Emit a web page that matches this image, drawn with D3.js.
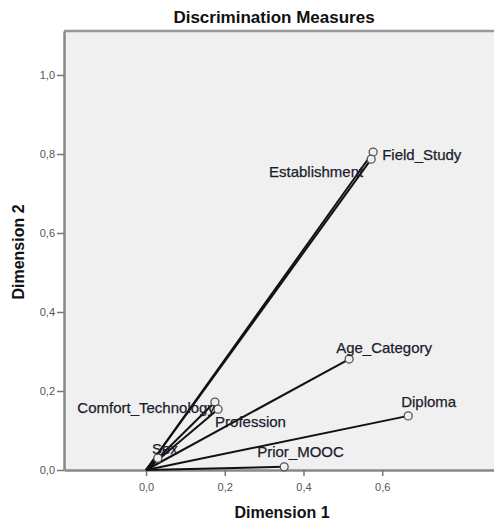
<!DOCTYPE html>
<html>
<head>
<meta charset="utf-8">
<style>
body { margin: 0; background: #fff; }
text { font-family: Arial, "Liberation Sans", sans-serif; }
.tick text { fill: #555; font-size: 11px; }
.lbl { fill: #1c1c2c; font-size: 15px; stroke: #1c1c2c; stroke-width: 0.25px; }
.ttl { fill: #111; font-weight: bold; }
</style>
<script src="https://cdn.jsdelivr.net/npm/d3@7"></script>
</head>
<body>
<script>

// discrimination measures per variable
var variables = ["Field_Study", "Establishment", "Age_Category", "Diploma", "Prior_MOOC", "Comfort_Technology", "Profession", "Sex"];
var dim1 = [0.577, 0.572, 0.516, 0.666, 0.351, 0.175, 0.183, 0.030];
var dim2 = [0.805, 0.787, 0.281, 0.137, 0.008, 0.172, 0.154, 0.030];
var xTicks = [0, 0.2, 0.4, 0.6];
var yTicks = [0, 0.2, 0.4, 0.6, 0.8, 1.0];

// label placement around each point
var labelPos = {
  "Field_Study":        {dx: 9,   dy: 3,   anchor: "start"},
  "Establishment":      {dx: -8,  dy: 13,  anchor: "end"},
  "Age_Category":       {dx: -13, dy: -11, anchor: "start"},
  "Diploma":            {dx: -7,  dy: -14, anchor: "start"},
  "Prior_MOOC":         {dx: -27, dy: -15, anchor: "start"},
  "Comfort_Technology": {dx: 0,   dy: 6,   anchor: "end"},
  "Profession":         {dx: -3,  dy: 13,  anchor: "start"},
  "Sex":                {dx: 7,   dy: -9,  anchor: "middle"}
};

var width = 494, height = 524;

var x = d3.scaleLinear().domain([-0.2084, 0.884]).range([64, 494]);
var y = d3.scaleLinear().domain([0, 1.1114]).range([470, 31]);

var svg = d3.select("body").append("svg")
    .attr("width", width)
    .attr("height", height);

// plot background
svg.append("rect")
    .attr("x", x.range()[0]).attr("y", y.range()[1])
    .attr("width", x.range()[1] - x.range()[0])
    .attr("height", y.range()[0] - y.range()[1])
    .attr("fill", "#f0f0f0");

// top border
svg.append("line")
    .attr("x1", x.range()[0]).attr("x2", x.range()[1])
    .attr("y1", y.range()[1]).attr("y2", y.range()[1])
    .attr("stroke", "#999").attr("stroke-width", 2.5);

var fmt = function(d) { return d3.format(".1f")(d).replace(".", ","); };

var xAxis = svg.append("g")
    .attr("transform", "translate(0," + y(0) + ")")
    .call(d3.axisBottom(x).tickValues(xTicks).tickFormat(fmt).tickSize(6).tickSizeOuter(0));

var yAxis = svg.append("g")
    .attr("transform", "translate(" + x.range()[0] + ",0)")
    .call(d3.axisLeft(y).tickValues(yTicks).tickFormat(fmt).tickSize(7).tickSizeOuter(0));

[xAxis, yAxis].forEach(function(a) {
  a.select(".domain").attr("stroke", "#888").attr("stroke-width", 2.5);
  a.selectAll(".tick line").attr("stroke", "#777").attr("stroke-width", 1.5);
  a.selectAll(".tick text").attr("font-size", null).attr("font-family", null);
});
xAxis.selectAll(".tick text").attr("dy", "1.1em");
yAxis.selectAll(".tick text").attr("x", -9);

var pts = variables.map(function(v, i) { return {name: v, d1: dim1[i], d2: dim2[i]}; });

// vectors from origin
svg.append("g").selectAll("line")
    .data(pts)
    .enter().append("line")
    .attr("x1", x(0)).attr("y1", y(0))
    .attr("x2", function(d) { return x(d.d1); })
    .attr("y2", function(d) { return y(d.d2); })
    .attr("stroke", "#111")
    .attr("stroke-width", 2);

svg.append("g").selectAll("circle")
    .data(pts)
    .enter().append("circle")
    .attr("cx", function(d) { return x(d.d1); })
    .attr("cy", function(d) { return y(d.d2); })
    .attr("r", 4)
    .attr("fill", "#f0f0f0")
    .attr("stroke", "#555")
    .attr("stroke-width", 1.3);

svg.append("g").selectAll("text")
    .data(pts)
    .enter().append("text")
    .attr("class", "lbl")
    .attr("x", function(d) { return x(d.d1) + labelPos[d.name].dx; })
    .attr("y", function(d) { return y(d.d2) + labelPos[d.name].dy; })
    .attr("dy", "0.35em")
    .attr("text-anchor", function(d) { return labelPos[d.name].anchor; })
    .text(function(d) { return d.name; });

// titles
svg.append("text")
    .attr("class", "ttl")
    .attr("x", 274).attr("y", 23)
    .attr("text-anchor", "middle")
    .attr("font-size", "17px")
    .text("Discrimination Measures");

svg.append("text")
    .attr("class", "ttl")
    .attr("x", 282).attr("y", 518)
    .attr("text-anchor", "middle")
    .attr("font-size", "16px")
    .text("Dimension 1");

svg.append("text")
    .attr("class", "ttl")
    .attr("transform", "translate(24,252) rotate(-90)")
    .attr("text-anchor", "middle")
    .attr("font-size", "16px")
    .text("Dimension 2");

</script>
</body>
</html>
